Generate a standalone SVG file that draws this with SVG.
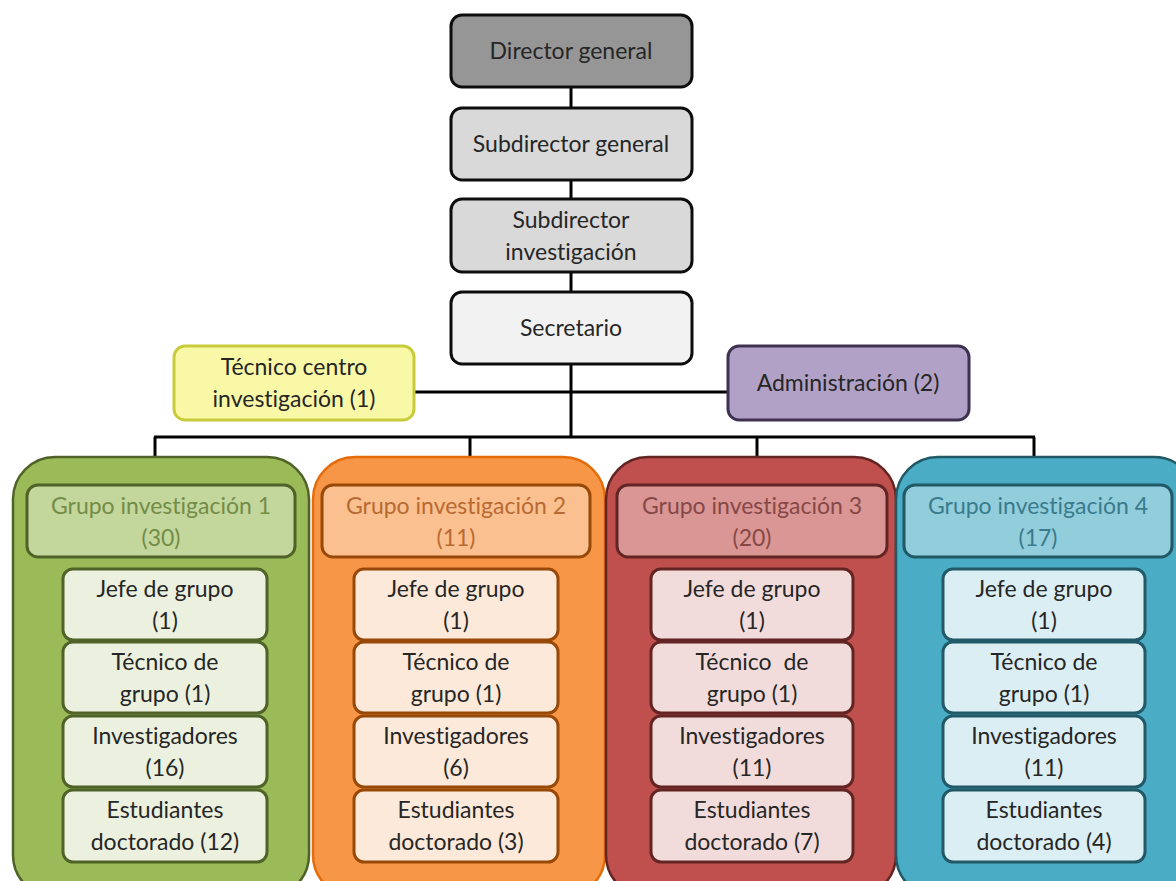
<svg xmlns="http://www.w3.org/2000/svg" width="1176" height="881" viewBox="0 0 1176 881">
  <style>
    text { font-family: Lato, "Open Sans", "Liberation Sans", sans-serif; font-size: 23px; text-anchor: middle; dominant-baseline: central; fill: #262626; font-variant-ligatures: none; }
    .top { stroke: #0d0d0d; stroke-width: 3; }
    .conn { stroke: #000; stroke-width: 3; fill: none; }
    .g1 .box { fill: #9bbb59; stroke: #4f6228; stroke-width: 2.5; }
    .g1 .hdr { fill: #c3d69b; stroke: #4f6228; stroke-width: 3; }
    .g1 .hdr-t { fill: #738c48; }
    .g1 .item { fill: #ebf1de; stroke: #4f6228; stroke-width: 3; }
    .g2 .box { fill: #f79646; stroke: #e46c0a; stroke-width: 2.5; }
    .g2 .hdr { fill: #fac090; stroke: #984807; stroke-width: 3; }
    .g2 .hdr-t { fill: #b86a33; }
    .g2 .item { fill: #fde9d9; stroke: #984807; stroke-width: 3; }
    .g3 .box { fill: #c0504d; stroke: #632523; stroke-width: 2.5; }
    .g3 .hdr { fill: #d99694; stroke: #632523; stroke-width: 3; }
    .g3 .hdr-t { fill: #864846; }
    .g3 .item { fill: #f2dcdb; stroke: #632523; stroke-width: 3; }
    .g4 .box { fill: #4bacc6; stroke: #215967; stroke-width: 2.5; }
    .g4 .hdr { fill: #92cddc; stroke: #215967; stroke-width: 3; }
    .g4 .hdr-t { fill: #3a7b8c; }
    .g4 .item { fill: #dbeef3; stroke: #215967; stroke-width: 3; }
  </style>
  <rect width="1176" height="881" fill="#ffffff"/>

  <!-- connectors -->
  <g id="connectors">
    <line class="conn" x1="571" y1="87" x2="571" y2="108"/>
    <line class="conn" x1="571" y1="180" x2="571" y2="199"/>
    <line class="conn" x1="571" y1="272" x2="571" y2="292"/>
    <line class="conn" x1="571" y1="364" x2="571" y2="437"/>
    <line class="conn" x1="414" y1="392" x2="728" y2="392"/>
    <line class="conn" x1="154" y1="437" x2="1035" y2="437"/>
    <line class="conn" x1="155" y1="437" x2="155" y2="485"/>
    <line class="conn" x1="470" y1="437" x2="470" y2="485"/>
    <line class="conn" x1="757" y1="437" x2="757" y2="485"/>
    <line class="conn" x1="1034" y1="437" x2="1034" y2="485"/>
  </g>

  <!-- top chain -->
  <g id="director-general">
    <rect class="top" x="451" y="15" width="241" height="72" rx="11" fill="#969696"/>
    <text x="571" y="50">Director general</text>
  </g>
  <g id="subdirector-general">
    <rect class="top" x="451" y="108" width="241" height="72" rx="11" fill="#d9d9d9"/>
    <text x="571" y="143">Subdirector general</text>
  </g>
  <g id="subdirector-investigacion">
    <rect class="top" x="451" y="199" width="241" height="73" rx="11" fill="#d9d9d9"/>
    <text x="571" y="219">Subdirector</text>
    <text x="571" y="251">investigación</text>
  </g>
  <g id="secretario">
    <rect class="top" x="451" y="292" width="241" height="72" rx="11" fill="#f2f2f2"/>
    <text x="571" y="327">Secretario</text>
  </g>
  <g id="tecnico-centro">
    <rect x="174" y="346" width="240" height="74" rx="11" fill="#f8f8a6" stroke="#c8cc3a" stroke-width="3"/>
    <text x="294" y="366">Técnico centro</text>
    <text x="294" y="398">investigación (1)</text>
  </g>
  <g id="administracion">
    <rect x="728" y="346" width="241" height="74" rx="11" fill="#b2a1c7" stroke="#3f3151" stroke-width="3"/>
    <text x="848" y="382">Administración (2)</text>
  </g>

  <!-- group 1 -->
  <g id="grupo-1" class="g1">
    <rect class="box" x="13" y="457" width="296" height="440" rx="42"/>
    <rect class="hdr" x="27" y="485" width="268" height="72" rx="11"/>
    <text class="hdr-t" x="161" y="505">Grupo investigación 1</text>
    <text class="hdr-t" x="161" y="537">(30)</text>
    <rect class="item" x="63" y="569" width="204" height="71" rx="10"/>
    <text x="165" y="588">Jefe de grupo</text>
    <text x="165" y="620">(1)</text>
    <rect class="item" x="63" y="642" width="204" height="71" rx="10"/>
    <text x="165" y="661">Técnico de</text>
    <text x="165" y="693">grupo (1)</text>
    <rect class="item" x="63" y="716" width="204" height="71" rx="10"/>
    <text x="165" y="735">Investigadores</text>
    <text x="165" y="767">(16)</text>
    <rect class="item" x="63" y="790" width="204" height="72" rx="10"/>
    <text x="165" y="809">Estudiantes</text>
    <text x="165" y="841">doctorado (12)</text>
  </g>

  <!-- group 2 -->
  <g id="grupo-2" class="g2">
    <rect class="box" x="313" y="457" width="292" height="440" rx="42"/>
    <rect class="hdr" x="322" y="485" width="268" height="72" rx="11"/>
    <text class="hdr-t" x="456" y="505">Grupo investigación 2</text>
    <text class="hdr-t" x="456" y="537">(11)</text>
    <rect class="item" x="354" y="569" width="204" height="71" rx="10"/>
    <text x="456" y="588">Jefe de grupo</text>
    <text x="456" y="620">(1)</text>
    <rect class="item" x="354" y="642" width="204" height="71" rx="10"/>
    <text x="456" y="661">Técnico de</text>
    <text x="456" y="693">grupo (1)</text>
    <rect class="item" x="354" y="716" width="204" height="71" rx="10"/>
    <text x="456" y="735">Investigadores</text>
    <text x="456" y="767">(6)</text>
    <rect class="item" x="354" y="790" width="204" height="72" rx="10"/>
    <text x="456" y="809">Estudiantes</text>
    <text x="456" y="841">doctorado (3)</text>
  </g>

  <!-- group 3 -->
  <g id="grupo-3" class="g3">
    <rect class="box" x="606" y="457" width="290" height="440" rx="42"/>
    <rect class="hdr" x="617" y="485" width="270" height="72" rx="11"/>
    <text class="hdr-t" x="752" y="505">Grupo investigación 3</text>
    <text class="hdr-t" x="752" y="537">(20)</text>
    <rect class="item" x="651" y="569" width="202" height="71" rx="10"/>
    <text x="752" y="588">Jefe de grupo</text>
    <text x="752" y="620">(1)</text>
    <rect class="item" x="651" y="642" width="202" height="71" rx="10"/>
    <text x="752" y="661" xml:space="preserve">Técnico  de</text>
    <text x="752" y="693">grupo (1)</text>
    <rect class="item" x="651" y="716" width="202" height="71" rx="10"/>
    <text x="752" y="735">Investigadores</text>
    <text x="752" y="767">(11)</text>
    <rect class="item" x="651" y="790" width="202" height="72" rx="10"/>
    <text x="752" y="809">Estudiantes</text>
    <text x="752" y="841">doctorado (7)</text>
  </g>

  <!-- group 4 -->
  <g id="grupo-4" class="g4">
    <rect class="box" x="896" y="457" width="300" height="440" rx="42"/>
    <rect class="hdr" x="904" y="485" width="268" height="72" rx="11"/>
    <text class="hdr-t" x="1038" y="505">Grupo investigación 4</text>
    <text class="hdr-t" x="1038" y="537">(17)</text>
    <rect class="item" x="943" y="569" width="202" height="71" rx="10"/>
    <text x="1044" y="588">Jefe de grupo</text>
    <text x="1044" y="620">(1)</text>
    <rect class="item" x="943" y="642" width="202" height="71" rx="10"/>
    <text x="1044" y="661">Técnico de</text>
    <text x="1044" y="693">grupo (1)</text>
    <rect class="item" x="943" y="716" width="202" height="71" rx="10"/>
    <text x="1044" y="735">Investigadores</text>
    <text x="1044" y="767">(11)</text>
    <rect class="item" x="943" y="790" width="202" height="72" rx="10"/>
    <text x="1044" y="809">Estudiantes</text>
    <text x="1044" y="841">doctorado (4)</text>
  </g>
</svg>
